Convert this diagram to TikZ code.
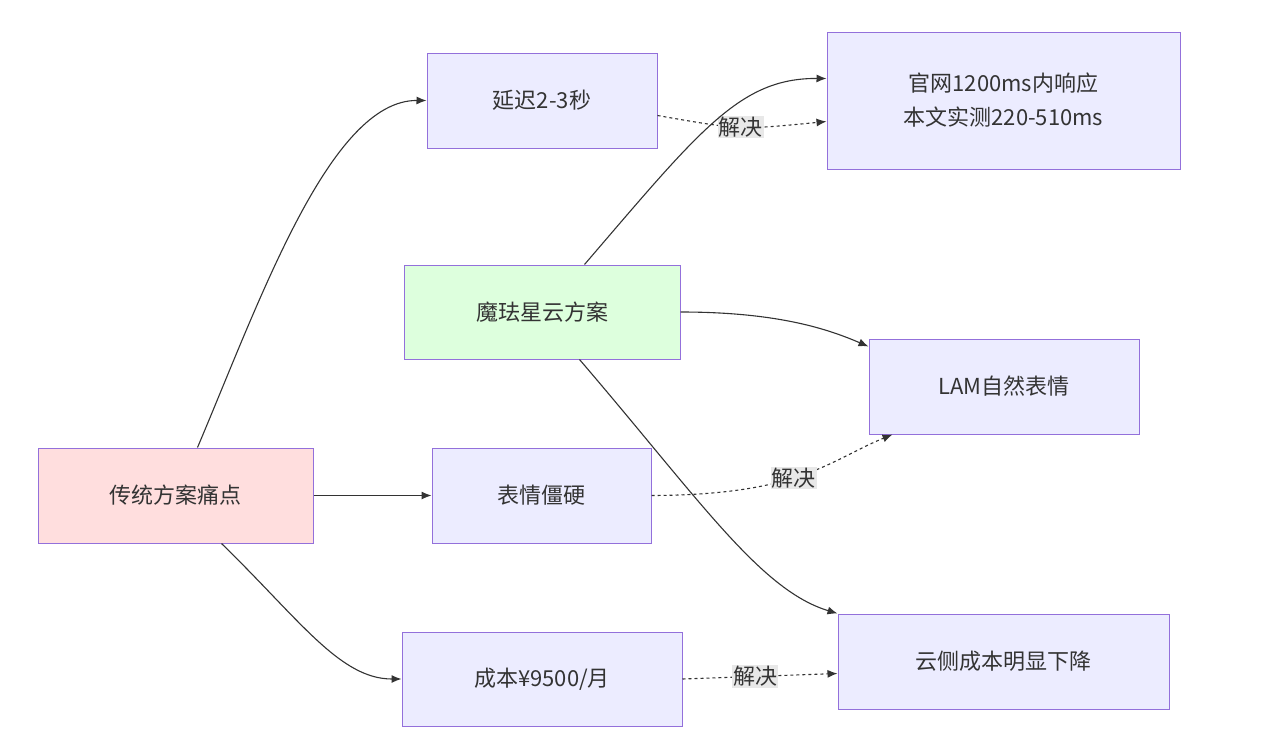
\documentclass[tikz,border=0pt]{standalone}
\usepackage{fontspec}
\setmainfont{Noto Sans CJK SC}
\usetikzlibrary{calc,arrows.meta}
\definecolor{bd}{HTML}{9370DB}
\definecolor{lav}{HTML}{ECECFF}
\definecolor{grn}{HTML}{DDFFDD}
\definecolor{pnk}{HTML}{FFDEDE}
\definecolor{ln}{HTML}{333333}
\begin{document}
\begin{tikzpicture}[x=1pt,y=-1pt,
 box/.style={draw=bd,fill=lav,line width=1pt,minimum height=95pt,align=center,font=\fontsize{22}{34}\selectfont,text=ln},
 arr/.style={draw=ln,line width=1.1pt,-{Latex[length=10pt,width=8pt]}},
 dot/.style={arr,dashed,dash pattern=on 3pt off 3pt},
 lbl/.style={fill=black!9,font=\fontsize{22}{26}\selectfont,text=ln,inner sep=1pt}]
\useasboundingbox (0,0) rectangle (1280,734);
\node[box,minimum width=230pt] (d) at (542,100.5) {延迟2-3秒};
\node[box,minimum width=353pt,minimum height=137pt] (g) at (1003.5,100.5) {官网1200ms内响应\\本文实测220-510ms};
\node[box,fill=grn,minimum width=276pt,minimum height=94pt] (m) at (542,312) {魔珐星云方案};
\node[box,minimum width=270pt] (l) at (1004,386.5) {LAM自然表情};
\node[box,fill=pnk,minimum width=275pt] (c) at (175.5,495.5) {传统方案痛点};
\node[box,minimum width=219pt] (e) at (541.5,495.5) {表情僵硬};
\node[box,minimum width=280pt,minimum height=94pt] (s) at (542,679) {成本¥9500/月};
\node[box,minimum width=331pt] (y) at (1003.5,661.5) {云侧成本明显下降};
\draw[arr] ($(c.north west)+(160,0)$) .. controls (260,300) and (330,100) .. (d.west);
\draw[arr] (c.east) -- (e.west);
\draw[arr] ($(c.south west)+(184,0)$) .. controls (300,620) and (340,679) .. (s.west);
\draw[dot] ($(d.east)+(0,15)$) .. controls (740,130) .. node[lbl,pos=0.5]{解决} ($(g.west)+(0,21)$);
\draw[arr] ($(m.north west)+(181,0)$) .. controls (700,130) and (740,78) .. ($(g.west)+(0,-22)$);
\draw[arr] (m.east) .. controls (780,312) and (830,330) .. ($(l.west)+(0,-40)$);
\draw[arr] ($(m.south west)+(176,0)$) .. controls (700,500) and (760,590) .. ($(y.north west)+(0,0)$);
\draw[dot] (e.east) .. controls (800,495) and (830,460) .. node[lbl,pos=0.45]{解决} ($(l.south west)+(24,0)$);
\draw[dot] (s.east) -- node[lbl,pos=0.47]{解决} ($(y.west)+(0,12)$);
\end{tikzpicture}
\end{document}
